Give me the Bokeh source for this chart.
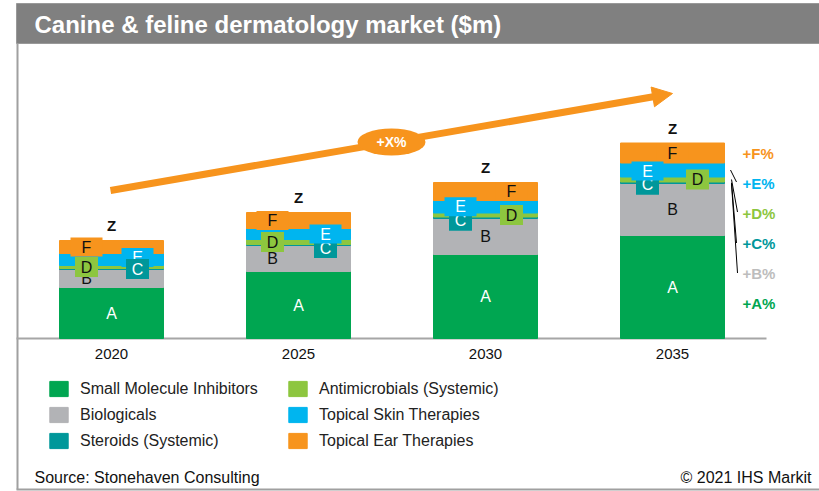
from bokeh.plotting import figure
from bokeh.models import ColumnDataSource, Range1d, Legend, LegendItem
from bokeh.core.properties import value
from bokeh.embed import file_html
from bokeh.resources import INLINE

# ---------------- data ----------------
years = [2020, 2025, 2030, 2035]
year_labels = ["2020", "2025", "2030", "2035"]
series = ["A", "B", "C", "D", "E", "F"]
series_names = ["Small Molecule Inhibitors", "Biologicals", "Steroids (Systemic)",
                "Antimicrobials (Systemic)", "Topical Skin Therapies", "Topical Ear Therapies"]
A = [51, 67, 84, 103]
B = [18, 26, 36, 52]
C = [1.0, 1.0, 1.5, 1.5]
D = [3, 5, 4, 5]
E = [12, 11, 12.5, 14]
F = [13, 16, 18, 20]
total_labels = ["Z", "Z", "Z", "Z"]
growth_labels = ["+A%", "+B%", "+C%", "+D%", "+E%", "+F%"]
cagr_label = "+X%"
title_text = "Canine & feline dermatology market ($m)"
source_text = "Source: Stonehaven Consulting"
copyright_text = "\u00a9 2021 IHS Markit"

# ---------------- style ----------------
colors = ["#00A651", "#B2B3B6", "#00979A", "#8DC63F", "#00B5EF", "#F7941D"]
growth_colors = ["#00A651", "#BDBDBD", "#00979A", "#8DC63F", "#00B5EF", "#F7941D"]
ORANGE = "#F7941D"
FONT = "Liberation Sans"
W, H = 819, 491
BASE = 338
px_per_year = 37.4
bar_w = 104 / px_per_year
x0 = 2020 - 111 / px_per_year

text_col = {"A": "white", "B": "#111111", "C": "white", "D": "#111111", "E": "white", "F": "#111111"}
box_size = {"A": None, "B": None, "C": (23, 20), "D": (23, 20), "E": (32, 19), "F": (32, 19)}
DX = {"A": [0, 0, 0, 0], "B": [-25, -26, 0, 0], "C": [26, 27, -25, -25],
      "D": [-25, -26, 26, 25], "E": [26, 27, -25, -25], "F": [-25, -26, 26, 0]}
DY = {"A": [0, 0, 0, 0], "B": [0, 0, 0, 0], "C": [0, 3, 3, 2],
      "D": [0, 0, 0, 0], "E": [-2, 0, 0, 1], "F": [0, 0, 0, 0]}
c_on_top = [True, False, False, False]

vals = dict(zip(series, [A, B, C, D, E, F]))

p = figure(width=W, height=H,
           x_range=Range1d(x0, x0 + W / px_per_year),
           y_range=Range1d(BASE - H, BASE),
           x_axis_location=None, y_axis_location=None,
           toolbar_location=None, output_backend="svg",
           min_border=0, outline_line_color=None)
p.extra_x_ranges = {"px": Range1d(0, W)}
p.extra_y_ranges = {"py": Range1d(H, 0)}
p.xgrid.visible = False
p.ygrid.visible = False
p.background_fill_color = "white"
p.border_fill_color = "white"

PX = dict(x_range_name="px", y_range_name="py")

# frame + title bar
p.quad(left=16, right=819, top=3, bottom=43, fill_color="#808080", line_color="#999999", line_width=1, **PX)
p.segment(x0=17, y0=43, x1=17, y1=489, line_color="#A0A0A0", line_width=2, **PX)
p.segment(x0=16, y0=489, x1=819, y1=489, line_color="#A0A0A0", line_width=2, **PX)
p.text(x=[34], y=[24], text=[title_text], text_color="white", text_font=value(FONT),
       text_font_style="bold", text_font_size="24px", text_baseline="middle", **PX)

# baseline
p.segment(x0=16, y0=0, x1=766, y1=0, line_color="#A6A6A6", line_width=2, x_range_name="px")

# stacked bars
src = ColumnDataSource(dict(year=years, **vals))
rends = p.vbar_stack(series, x="year", width=bar_w, color=colors, source=src)

# growth arrow
tip = (672.0, 93.0)
start = (110.0, 190.0)
dx, dy = tip[0] - start[0], tip[1] - start[1]
ln = (dx * dx + dy * dy) ** 0.5
ux, uy = dx / ln, dy / ln
nx, ny = -uy, ux
hl, hw = 20, 10
bx, by = tip[0] - hl * ux, tip[1] - hl * uy
p.segment(x0=start[0], y0=start[1], x1=bx + 2 * ux, y1=by + 2 * uy, line_color=ORANGE, line_width=7, **PX)
p.patch(x=[tip[0], bx + hw * nx, bx - hw * nx], y=[tip[1], by + hw * ny, by - hw * ny],
        fill_color=ORANGE, line_color=ORANGE, **PX)
mx, my = start[0] + dx / 2, start[1] + dy / 2
p.ellipse(x=[mx], y=[my], width=68, height=27, width_units="screen", height_units="screen",
          fill_color=ORANGE, line_color=None, **PX)
p.text(x=[mx], y=[my], text=[cagr_label], text_color="white", text_font=value(FONT),
       text_font_style="bold", text_font_size="14px", text_align="center",
       text_baseline="middle", **PX)

# segment labels
layers = {0: [], 1: [], 2: []}
cum = [0.0] * 4
centers = {}
for s in series:
    for i, yr in enumerate(years):
        bot = cum[i]
        top = bot + vals[s][i]
        cum[i] = top
        centers[(s, i)] = ((bot + top) / 2, top)
        if s in ("A", "B"):
            layer = 0
        elif s in ("C", "E"):
            upper = (s == "C") == c_on_top[i]
            layer = 2 if upper else 1
        else:
            layer = 1
        bs = box_size[s]
        layers[layer].append(dict(
            x=yr + DX[s][i] / px_per_year, y=(bot + top) / 2 - DY[s][i], t=s,
            tc=text_col[s], bc=colors[series.index(s)],
            w=bs[0] if bs else 0, h=bs[1] if bs else 0, box=bs is not None))
totals = cum

for layer in (0, 1, 2):
    items = layers[layer]
    boxes = [d for d in items if d["box"]]
    if boxes:
        bsrc = ColumnDataSource({k: [d[k] for d in boxes] for k in ("x", "y", "w", "h", "bc")})
        p.rect(x="x", y="y", width="w", height="h", width_units="screen", height_units="screen",
               fill_color="bc", line_color=None, source=bsrc)
    tsrc = ColumnDataSource({k: [d[k] for d in items] for k in ("x", "y", "t", "tc")})
    p.text(x="x", y="y", text="t", text_color="tc", text_font=value(FONT), text_font_size="16px",
           text_align="center", text_baseline="middle", source=tsrc)

# totals
p.text(x=years, y=[t + 15 for t in totals], text=total_labels, text_color="#111111",
       text_font=value(FONT), text_font_style="bold", text_font_size="15px",
       text_align="center", text_baseline="middle")

# year labels
p.text(x=years, y=[-15] * 4, text=year_labels, text_color="#111111", text_font=value(FONT),
       text_font_size="15px", text_align="center", text_baseline="middle")

# growth labels at right
fy = centers[("F", 3)][0]
gy = [fy - 30 * (5 - k) for k in range(6)]
p.text(x=[742] * 6, y=gy, text=growth_labels, text_color=growth_colors, text_font=value(FONT),
       text_font_style="bold", text_font_size="15px", text_baseline="middle", x_range_name="px")

# connectors
conn_start = [centers[("E", 3)][0], centers[("D", 3)][0], centers[("C", 3)][0], centers[("B", 3)][1]]
conn_end = [gy[4] + 1, gy[3] + 1, gy[2], gy[1]]
p.segment(x0=[730, 731, 731, 731], y0=conn_start, x1=[736, 737, 736, 737], y1=conn_end,
          line_color="black", line_width=1, x_range_name="px")

# legends
def make_legend(idx, xloc):
    lg = Legend(items=[LegendItem(label=series_names[k], renderers=[rends[k]]) for k in idx],
                location=(xloc, 41), orientation="vertical",
                glyph_width=23, glyph_height=19, label_height=19, spacing=7,
                label_standoff=10, padding=0, margin=0,
                border_line_color=None, background_fill_alpha=0,
                label_text_font=FONT, label_text_font_size="16px",
                label_text_color="#222222")
    return lg

p.add_layout(make_legend([0, 1, 2], 47))
p.add_layout(make_legend([3, 4, 5], 286))

# footer
p.text(x=[34], y=[477], text=[source_text], text_color="#111111", text_font=value(FONT),
       text_font_size="16px", text_baseline="middle", **PX)
p.text(x=[811], y=[477], text=[copyright_text], text_color="#111111", text_font=value(FONT),
       text_font_size="16px", text_align="right", text_baseline="middle", **PX)

open("out.html", "w").write(file_html(p, INLINE))
